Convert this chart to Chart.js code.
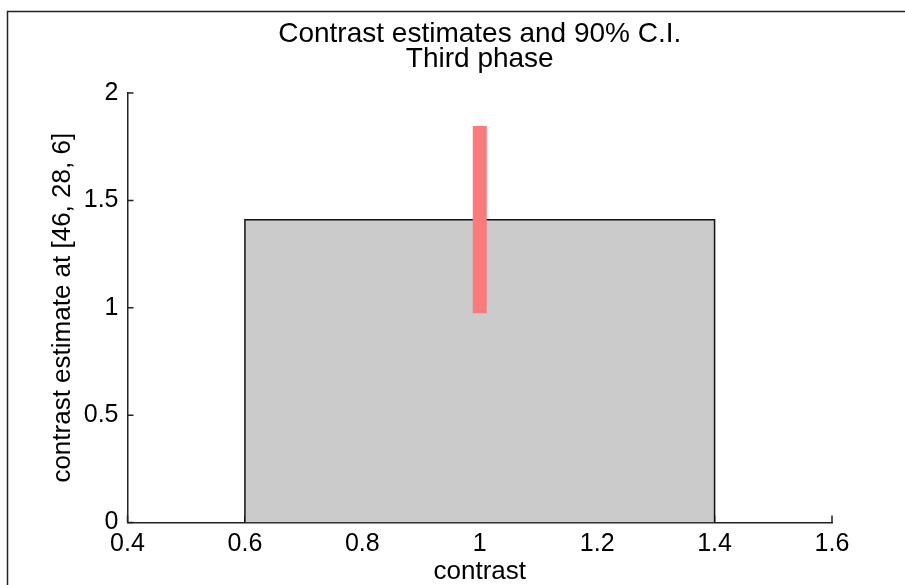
<!DOCTYPE html>
<html>
<head>
<meta charset="utf-8">
<script src="https://cdn.jsdelivr.net/npm/chart.js@4/dist/chart.umd.min.js"></script>
<style>
  html, body { margin: 0; padding: 0; background: #fff; overflow: hidden; }
  #wrap { width: 905px; height: 585px; position: relative; }
</style>
</head>
<body>
<div id="wrap"><canvas id="contrast-chart"></canvas></div>
<script>
// values
const contrasts = [1];
const estimates = [1.41];
const ciLow = [0.974];
const ciHigh = [1.846];
const barWidth = 0.8;
const xTickValues = [0.4, 0.6, 0.8, 1, 1.2, 1.4, 1.6];
const yTickValues = [0, 0.5, 1, 1.5, 2];

const canvas = document.querySelector('#contrast-chart');
const font = 'Liberation Sans, Arial, sans-serif';

// bar outline as a filled polygon (MATLAB bar with width 0.8)
const barPoints = [];
contrasts.forEach((c, i) => {
    barPoints.push({x: c - barWidth / 2, y: 0});
    barPoints.push({x: c - barWidth / 2, y: estimates[i]});
    barPoints.push({x: c + barWidth / 2, y: estimates[i]});
    barPoints.push({x: c + barWidth / 2, y: 0});
});

const ciPoints = [];
contrasts.forEach((c, i) => {
    ciPoints.push({x: c, y: ciLow[i]});
    ciPoints.push({x: c, y: ciHigh[i]});
});

const plainNumber = v => String(+Number(v).toFixed(2));

// inward ticks drawn under the data, plus the figure frame
const axisExtras = {
    id: 'axisExtras',
    beforeDatasetsDraw(chart) {
        const {ctx, scales: {x, y}} = chart;
        ctx.save();
        ctx.strokeStyle = '#222';
        ctx.lineWidth = 1.5;
        ctx.beginPath();
        y.ticks.forEach(t => {
            const py = y.getPixelForValue(t.value);
            ctx.moveTo(x.left, py);
            ctx.lineTo(x.left + 6, py);
        });
        x.ticks.forEach(t => {
            const px = x.getPixelForValue(t.value);
            ctx.moveTo(px, y.bottom);
            ctx.lineTo(px, y.bottom - 7);
        });
        ctx.stroke();
        ctx.restore();
    },
    afterDraw(chart) {
        const ctx = chart.ctx;
        ctx.save();
        ctx.strokeStyle = '#222';
        ctx.lineWidth = 1.5;
        ctx.beginPath();
        ctx.moveTo(7.5, chart.height);
        ctx.lineTo(7.5, 11.5);
        ctx.lineTo(chart.width, 11.5);
        ctx.stroke();
        ctx.restore();
    }
};

const contrastChart = new Chart(canvas, {
    type: 'line',
    data: {
        datasets: [{
            data: ciPoints,
            borderColor: '#f97b7b',
            borderWidth: 14,
            borderCapStyle: 'butt',
            pointRadius: 0,
            fill: false,
            order: 0
        }, {
            data: barPoints,
            borderColor: '#111',
            borderWidth: 1.5,
            backgroundColor: '#cbcbcb',
            pointRadius: 0,
            tension: 0,
            fill: 'origin',
            order: 1
        }]
    },
    options: {
        responsive: true,
        maintainAspectRatio: false,
        animation: false,
        layout: {
            padding: {left: 0, right: 73, top: 0, bottom: 0}
        },
        scales: {
            x: {
                type: 'linear',
                min: 0.4,
                max: 1.6,
                afterBuildTicks(s) { s.ticks = xTickValues.map(v => ({value: v})); },
                afterFit(s) { s.height = 62.5; },
                grid: {display: true, drawOnChartArea: false, drawTicks: false},
                border: {display: true, color: '#222', width: 1.5},
                ticks: {
                    padding: 7,
                    color: '#000',
                    maxRotation: 0,
                    callback: plainNumber,
                    font: {family: font, size: 25}
                },
                title: {
                    display: true,
                    text: 'contrast',
                    color: '#000',
                    padding: {top: 0, bottom: -2},
                    font: {family: font, size: 26}
                }
            },
            y: {
                type: 'linear',
                min: 0,
                max: 2,
                afterBuildTicks(s) { s.ticks = yTickValues.map(v => ({value: v})); },
                afterFit(s) { s.width = 127.5; },
                grid: {display: true, drawOnChartArea: false, drawTicks: false},
                border: {display: true, color: '#222', width: 1.5},
                ticks: {
                    padding: 9,
                    color: '#000',
                    callback: plainNumber,
                    font: {family: font, size: 25}
                },
                title: {
                    display: true,
                    text: 'contrast estimate at [46, 28, 6]',
                    color: '#000',
                    padding: {top: 47, bottom: 0},
                    font: {family: font, size: 26}
                }
            }
        },
        plugins: {
            legend: {display: false},
            tooltip: {enabled: false},
            title: {
                display: true,
                fullSize: false,
                text: ['Contrast estimates and 90% C.I.', 'Third phase'],
                color: '#000',
                padding: {top: 22, bottom: 21},
                font: {family: font, size: 28, weight: 'normal', lineHeight: 25 / 28}
            }
        }
    },
    plugins: [axisExtras]
});
</script>
</body>
</html>
